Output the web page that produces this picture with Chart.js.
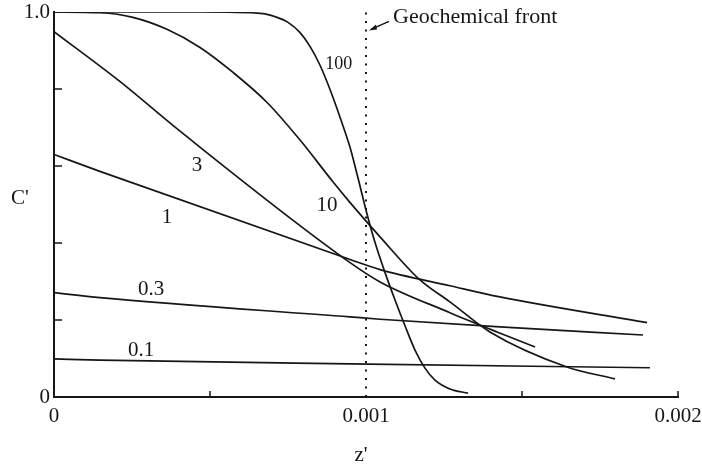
<!DOCTYPE html>
<html><head><meta charset="utf-8">
<script src="https://cdn.jsdelivr.net/npm/chart.js@4.4.1/dist/chart.umd.min.js"></script>
<style>html,body{margin:0;padding:0;background:#fff;}canvas{display:block;}</style>
</head><body>
<canvas id="c" width="702" height="468"></canvas>
<script>
// ---- data ----
const z100 = [0, 0.000468, 0.000670, 0.000708, 0.000750, 0.000788, 0.000821, 0.000853, 0.000885, 0.000917, 0.000949, 0.000974, 0.001003, 0.001029, 0.001061, 0.001093, 0.001125, 0.001157, 0.001189, 0.001221, 0.001269, 0.001327];
const c100 = [1.0, 1.0, 0.996, 0.988, 0.973, 0.947, 0.910, 0.861, 0.798, 0.726, 0.648, 0.570, 0.476, 0.401, 0.323, 0.252, 0.185, 0.122, 0.075, 0.044, 0.021, 0.010];
const z10 = [0, 0.000147, 0.000253, 0.000362, 0.000468, 0.000574, 0.000683, 0.000788, 0.000894, 0.000949, 0.001045, 0.001173, 0.001269, 0.001397, 0.001644, 0.001798];
const c10 = [1.0, 0.998, 0.986, 0.955, 0.908, 0.843, 0.765, 0.668, 0.559, 0.505, 0.416, 0.304, 0.247, 0.169, 0.078, 0.047];
const z3 = [0, 0.000212, 0.000394, 0.000949, 0.001045, 0.001269, 0.001420, 0.001542];
const c3 = [0.949, 0.819, 0.697, 0.349, 0.299, 0.219, 0.169, 0.130];
const z1 = [0, 0.000147, 0.000949, 0.001045, 0.001269, 0.001429, 0.001901];
const c1 = [0.630, 0.586, 0.357, 0.331, 0.289, 0.260, 0.193];
const z03 = [0, 0.000147, 0.000949, 0.001045, 0.001429, 0.001888];
const c03 = [0.271, 0.258, 0.208, 0.202, 0.182, 0.161];
const z01 = [0, 0.000147, 0.000949, 0.001910];
const c01 = [0.099, 0.096, 0.086, 0.076];
const frontZ = 0.001;
const xTickLabels = ['0', '0.001', '0.002'];
const yTickLabels = ['0', '1.0'];
const curveLabels = ['100', '10', '3', '1', '0.3', '0.1'];
const curveLabelZ = [0.000913, 0.000875, 0.000458, 0.000362, 0.000311, 0.000279];
const curveLabelC = [0.863, 0.497, 0.601, 0.466, 0.278, 0.120];
const frontLabel = 'Geochemical front';
const xTitle = "z'";
const yTitle = "C'";

const pts = (zs, cs) => zs.map((z, i) => ({x: z, y: cs[i]}));
const INK = '#161616';
const SERIF = '"Liberation Serif", "DejaVu Serif", serif';

function curve(zs, cs) {
  return {data: pts(zs, cs), borderColor: INK, borderWidth: 1.7, pointRadius: 0,
          cubicInterpolationMode: 'monotone', fill: false};
}

const annot = {
  id: 'annot',
  afterDraw(chart) {
    const ctx = chart.ctx, xs = chart.scales.x, ys = chart.scales.y, ca = chart.chartArea;
    ctx.save();
    ctx.strokeStyle = INK; ctx.lineWidth = 1.5;
    // inward tick marks
    ys.ticks.forEach(t => {
      if (t.value > 1e-9 && t.value < 1 - 1e-9) {
        const py = ys.getPixelForValue(t.value);
        ctx.beginPath(); ctx.moveTo(ca.left, py); ctx.lineTo(ca.left + 8, py); ctx.stroke();
      }
    });
    xs.ticks.forEach(t => {
      const k = Math.round(t.value / 0.0005);
      if (k === 1 || k === 3 || k === 4) {
        const px = xs.getPixelForValue(t.value);
        ctx.beginPath(); ctx.moveTo(px, ca.bottom); ctx.lineTo(px, ca.bottom - 6); ctx.stroke();
      }
    });
    // curve labels
    ctx.fillStyle = INK;
    ctx.textAlign = 'center'; ctx.textBaseline = 'middle';
    curveLabels.forEach((s, i) => {
      ctx.font = (s === '100' ? '18px ' : '21px ') + SERIF;
      ctx.fillText(s, xs.getPixelForValue(curveLabelZ[i]), ys.getPixelForValue(curveLabelC[i]));
    });
    // front label + arrow
    ctx.font = '22px ' + SERIF;
    ctx.textAlign = 'left';
    const fx = xs.getPixelForValue(frontZ);
    const fy = ys.getPixelForValue(0.986);
    ctx.fillText(frontLabel, fx + 27, fy);
    ctx.beginPath(); ctx.moveTo(fx + 23, fy + 4); ctx.lineTo(fx + 5, fy + 12); ctx.stroke();
    ctx.beginPath();
    ctx.moveTo(fx + 3, fy + 13); ctx.lineTo(fx + 10, fy + 7); ctx.lineTo(fx + 11, fy + 12); ctx.closePath();
    ctx.fill();
    // axis titles
    ctx.font = '21px ' + SERIF;
    ctx.textAlign = 'center';
    ctx.fillText(yTitle, 20, ys.getPixelForValue(0.515));
    ctx.fillText(xTitle, xs.getPixelForValue(0.000984), ca.bottom + 58);
    ctx.restore();
  }
};

new Chart(document.getElementById('c'), {
  type: 'line',
  data: {
    datasets: [
      curve(z100, c100), curve(z10, c10), curve(z3, c3), curve(z1, c1), curve(z03, c03), curve(z01, c01),
      {data: [{x: frontZ, y: 0}, {x: frontZ, y: 1.0}], borderColor: INK, borderWidth: 2,
       borderDash: [2, 6.5], pointRadius: 0, fill: false}
    ]
  },
  options: {
    responsive: false, animation: false, devicePixelRatio: 1,
    layout: {padding: {left: 0, right: 24, top: 12, bottom: 0}},
    plugins: {legend: {display: false}, tooltip: {enabled: false}},
    scales: {
      x: {
        type: 'linear', min: 0, max: 0.002,
        grid: {display: false, drawTicks: false},
        border: {display: true, color: INK, width: 2},
        ticks: {stepSize: 0.0005, autoSkip: false, maxRotation: 0, padding: 7, color: INK,
                font: {family: SERIF, size: 21},
                callback: v => { const k = Math.round(v / 0.0005); return k % 2 === 0 ? xTickLabels[k / 2] : ''; }},
        afterFit: s => { s.height = 71; s.paddingLeft = 0; s.paddingRight = 0; }
      },
      y: {
        type: 'linear', min: 0, max: 1.0,
        grid: {display: false, drawTicks: false},
        border: {display: true, color: INK, width: 2},
        ticks: {stepSize: 0.2, autoSkip: false, padding: 4, color: INK,
                font: {family: SERIF, size: 21},
                callback: v => Math.abs(v) < 1e-9 ? yTickLabels[0] : (Math.abs(v - 1) < 1e-9 ? yTickLabels[1] : '')},
        afterFit: s => { s.width = 54; s.paddingTop = 0; s.paddingBottom = 0; }
      }
    }
  },
  plugins: [annot]
});
</script>
</body></html>
